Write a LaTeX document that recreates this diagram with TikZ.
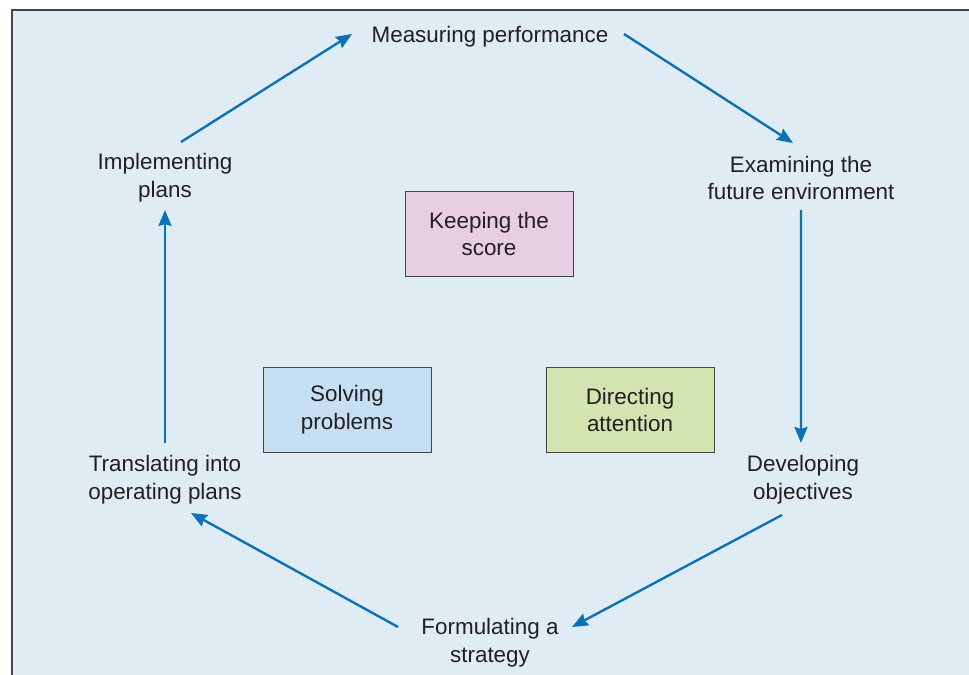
\documentclass[tikz,border=0pt]{standalone}
\usepackage{fontspec}
\setmainfont{Liberation Sans}
\usetikzlibrary{arrows.meta}

\definecolor{panelbg}{HTML}{E0ECF3}
\definecolor{framegray}{HTML}{454545}
\definecolor{flowblue}{HTML}{0A72B9}
\definecolor{inktext}{HTML}{231F20}
\definecolor{scorepink}{HTML}{E8CEE3}
\definecolor{solveblue}{HTML}{C7DFF2}
\definecolor{directgreen}{HTML}{D4E4B0}

\tikzstyle{stage}=[align=center, text=inktext, inner sep=0pt, font=\fontsize{22.5}{28}\selectfont]
\tikzstyle{role}=[stage, draw=framegray, line width=1bp, minimum width=168bp, minimum height=85bp]
\tikzstyle{flow}=[draw=flowblue, line width=2.4bp, -{Stealth[length=16bp,width=13bp,inset=2bp]}]

\begin{document}
\begin{tikzpicture}[x=1bp, y=1bp]
			\useasboundingbox (0,0) rectangle (969,675);
			%The panel behind everything
			\fill[panelbg] (12,0) rectangle (969,665);
			\draw[framegray, line width=1.5bp] (12,0) -- (12,665) -- (969,665);
			%The stages round the cycle
			\foreach \pos/\name/\txt in {{(490,638)/meas/Measuring performance},
										{(801,497)/exam/Examining the\\future environment},
										{(803,195)/devel/Developing\\objectives},
										{(490,32)/form/Formulating a\\strategy},
										{(165,195)/trans/Translating into\\operating plans},
										{(165,497)/impl/Implementing\\plans}}
			\node[stage] (\name) at \pos {\txt};
			%The roles in the middle
			\node[role, fill=scorepink] (keep) at (489,441) {Keeping the\\score};
			\node[role, fill=solveblue] (solve) at (347,265) {Solving\\problems};
			\node[role, fill=directgreen] (direct) at (630,265) {Directing\\attention};
			%Arrows going round
			\draw[flow] ([xshift=16bp,yshift=36bp]impl.center) -- ([xshift=-138bp,yshift=3bp]meas.center);
			\draw[flow] ([xshift=134bp,yshift=3bp]meas.center) -- ([xshift=-8bp,yshift=35bp]exam.center);
			\draw[flow] ([yshift=-32bp]exam.center) -- ([xshift=-2bp,yshift=37bp]devel.center);
			\draw[flow] ([xshift=-21bp,yshift=-35bp]devel.center) -- ([xshift=82bp,yshift=16bp]form.center);
			\draw[flow] ([xshift=-92bp,yshift=16bp]form.center) -- ([xshift=26bp,yshift=-33bp]trans.center);
			\draw[flow] ([yshift=37bp]trans.center) -- ([yshift=-32bp]impl.center);
		\end{tikzpicture}
\end{document}
